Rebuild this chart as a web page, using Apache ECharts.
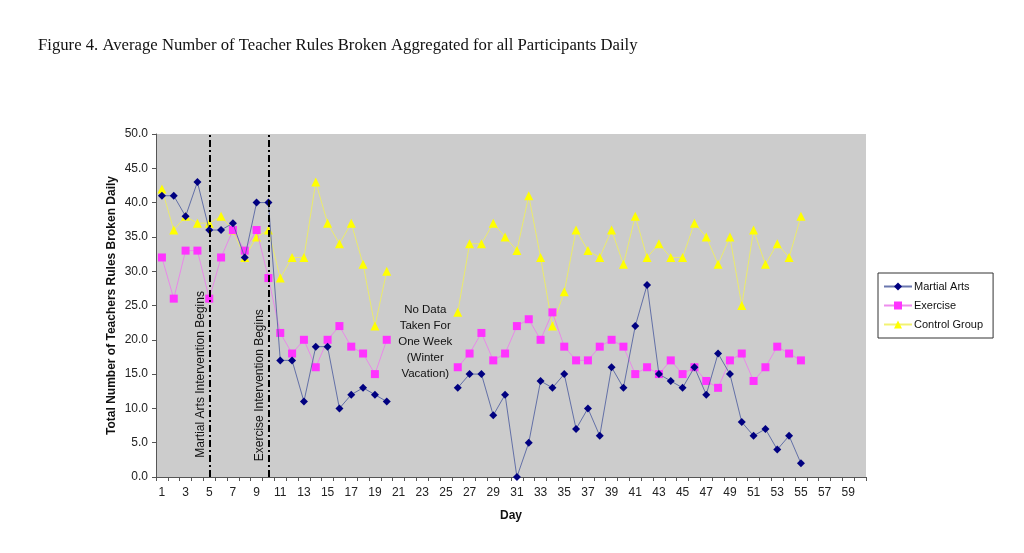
<!DOCTYPE html>
<html>
<head>
<meta charset="utf-8">
<script src="https://cdn.jsdelivr.net/npm/echarts@6/dist/echarts.min.js"></script>
<style>
  html, body { margin: 0; padding: 0; background: #fff; }
  #chart { width: 1024px; height: 553px; }
</style>
</head>
<body>
<div id="chart"></div>
<script>
// ---- Data ----
const days = ['1','2','3','4','5','6','7','8','9','10','11','12','13','14','15','16','17','18','19','20',
  '21','22','23','24','25','26','27','28','29','30','31','32','33','34','35','36','37','38','39','40',
  '41','42','43','44','45','46','47','48','49','50','51','52','53','54','55','56','57','58','59','60'];

const martialArts = [41,41,38,43,36,36,37,32,40,40,17,17,11,19,19,10,12,13,12,11,
  null,null,null,null,null,
  13,15,15,9,12,0,5,14,13,15,7,10,6,16,13,22,28,15,14,13,16,12,18,15,8,6,7,4,6,2,
  null,null,null,null,null];

const exercise = [32,26,33,33,26,32,36,33,36,29,21,18,20,16,20,22,19,18,15,20,
  null,null,null,null,null,
  16,18,21,17,18,22,23,20,24,19,17,17,19,20,19,15,16,15,17,15,16,14,13,17,18,14,16,19,18,17,
  null,null,null,null,null];

const controlGroup = [42,36,38,37,37,38,36,32,35,36,29,32,32,43,37,34,37,31,22,30,
  null,null,null,null,null,
  24,34,34,37,35,33,41,32,22,27,36,33,32,36,31,38,32,34,32,32,37,35,31,35,25,36,31,34,32,38,
  null,null,null,null,null];

const seriesNames = ['Martial Arts', 'Exercise', 'Control Group'];
const interventionDays = ['5', '10'];
const interventionLabels = ['Martial Arts Intervention Begins', 'Exercise Intervention Begins'];
const titleText = 'Figure 4. Average Number of Teacher Rules Broken Aggregated for all Participants Daily';
const noDataText = 'No Data\nTaken For\nOne Week\n(Winter\nVacation)';

// ---- Chart ----
const chart = echarts.init(document.getElementById('chart'), null, { renderer: 'canvas' });
const FONT = 'Liberation Sans, Arial, sans-serif';

function lineSeries(name, data, color, lineColor, symbol, size, extra) {
  return Object.assign({
    name: name,
    type: 'line',
    data: data,
    symbol: symbol,
    symbolSize: size,
    showSymbol: true,
    showAllSymbol: true,
    connectNulls: false,
    animation: false,
    itemStyle: { color: color, borderWidth: 0 },
    lineStyle: { color: lineColor, width: 1 },
    emphasis: { disabled: true }
  }, extra || {});
}

const option = {
  animation: false,
  textStyle: { fontFamily: FONT },
  title: {
    text: titleText,
    left: 33,
    top: 32,
    textStyle: { fontFamily: 'Liberation Serif, Times New Roman, serif', fontSize: 16.7, fontWeight: 'normal', color: '#111' }
  },
  legend: {
    orient: 'vertical',
    left: 878,
    top: 273,
    padding: [8, 10, 8, 5],
    itemGap: 8,
    itemWidth: 28,
    itemHeight: 10,
    backgroundColor: '#fff',
    borderColor: '#333',
    borderWidth: 1,
    borderRadius: 0,
    textStyle: { fontFamily: FONT, fontSize: 11, color: '#111', padding: [0, 0, 0, -3] },
    data: seriesNames
  },
  grid: {
    left: 156, right: 158, top: 134, bottom: 76,
    show: true, backgroundColor: '#cccccc', borderWidth: 0
  },
  xAxis: {
    type: 'category',
    data: days,
    boundaryGap: true,
    name: 'Day',
    nameLocation: 'middle',
    nameGap: 33,
    nameTextStyle: { fontFamily: FONT, fontSize: 12, fontWeight: 'bold', color: '#111' },
    axisLine: { show: true, lineStyle: { color: '#555', width: 1 } },
    axisTick: { show: true, interval: 0, length: 4, inside: false, lineStyle: { color: '#555' } },
    axisLabel: { interval: 1, fontFamily: FONT, fontSize: 12, color: '#222', margin: 10 },
    splitLine: { show: false }
  },
  yAxis: {
    type: 'value',
    min: 0, max: 50, interval: 5,
    name: 'Total Number of Teachers Rules Broken Daily',
    nameLocation: 'middle',
    nameGap: 38,
    nameMoveOverlap: false,
    nameTextStyle: { fontFamily: FONT, fontSize: 12, fontWeight: 'bold', color: '#111' },
    axisLine: { show: true, lineStyle: { color: '#555', width: 1 } },
    axisTick: { show: true, length: 4, inside: false, lineStyle: { color: '#555' } },
    axisLabel: { fontFamily: FONT, fontSize: 12, color: '#222', margin: 8, formatter: v => v.toFixed(1) },
    splitLine: { show: false }
  },
  series: [
    lineSeries(seriesNames[2], controlGroup, '#ffff00', 'rgba(240,240,90,0.85)', 'triangle', 9, { z: 2 }),
    lineSeries(seriesNames[1], exercise, '#ff33ff', 'rgba(235,130,235,0.9)', 'rect', 8, { z: 3 }),
    lineSeries(seriesNames[0], martialArts, '#000080', 'rgba(80,95,160,0.85)', 'diamond', 8, {
      z: 4,
      markLine: {
        silent: true,
        symbol: ['none', 'none'],
        animation: false,
        label: { show: false },
        lineStyle: { color: '#000', width: 2, type: [7, 3, 2, 3] },
        data: interventionDays.map(d => ({ xAxis: d }))
      }
    })
  ]
};
chart.setOption(option);

// Text annotations positioned from the axes
const p5 = chart.convertToPixel({ xAxisIndex: 0, yAxisIndex: 0 }, [interventionDays[0], 2.8]);
const p10 = chart.convertToPixel({ xAxisIndex: 0, yAxisIndex: 0 }, [interventionDays[1], 2.3]);
const pNo = chart.convertToPixel({ xAxisIndex: 0, yAxisIndex: 0 }, ['23', 25.6]);

chart.setOption({
  graphic: [
    {
      type: 'text', x: p5[0] - 9, y: p5[1], rotation: Math.PI / 2, silent: true, z: 10,
      style: { text: interventionLabels[0], font: '12px ' + FONT, fill: '#111', textAlign: 'left', textVerticalAlign: 'middle' }
    },
    {
      type: 'text', x: p10[0] - 9, y: p10[1], rotation: Math.PI / 2, silent: true, z: 10,
      style: { text: interventionLabels[1], font: '12px ' + FONT, fill: '#111', textAlign: 'left', textVerticalAlign: 'middle' }
    },
    {
      type: 'text', x: pNo[0] + 3, y: pNo[1], silent: true, z: 10,
      style: { text: noDataText, font: '11.5px ' + FONT, fill: '#111', textAlign: 'center', textVerticalAlign: 'top', lineHeight: 16 }
    }
  ]
});
</script>
</body>
</html>
